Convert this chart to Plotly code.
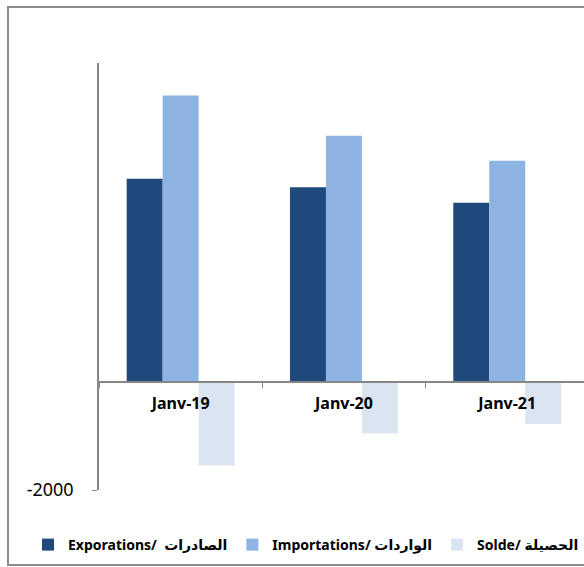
import plotly.graph_objects as go

categories = ["Janv-19", "Janv-20", "Janv-21"]
exports = [3760, 3600, 3315]
imports = [5300, 4556, 4093]
solde = [-1545, -956, -778]

series_names = ["Exporations/  الصادرات", "Importations/ الواردات", "Solde/ الحصيلة"]
colors = ["#1F497D", "#8DB3E2", "#DBE5F1"]

W, H = 584, 567
L, R, T, B = 99, 0, 63, 77
plot_w = W - L - R
plot_h = H - T - B
ymin, ymax = -2000, 5900
zero_frac = (0 - ymin) / (ymax - ymin)

fig = go.Figure()
for name, vals, c in zip(series_names, [exports, imports, solde], colors):
    fig.add_trace(go.Bar(x=categories, y=vals, name=name, marker=dict(color=c, line=dict(width=0))))

def px_x(p):
    return (p - L) / plot_w

def px_y(p):
    return (H - B - p) / plot_h

fig.update_layout(
    width=W, height=H,
    margin=dict(l=L, r=R, t=T, b=B, pad=0),
    paper_bgcolor="white", plot_bgcolor="white",
    barmode="group", bargap=0.339, bargroupgap=0,
    showlegend=True,
    legend=dict(orientation="h", x=px_x(35), xanchor="left", y=px_y(545), yanchor="middle",
                font=dict(family="Noto Sans, DejaVu Sans", size=14, color="#000000", weight="bold"),
                traceorder="normal", itemwidth=30, bgcolor="rgba(0,0,0,0)"),
    xaxis=dict(range=[-0.5, -0.5 + plot_w / 163.3], anchor="free", position=zero_frac,
               showline=True, linecolor="#868686", linewidth=1.5,
               ticks="outside", tickson="boundaries", ticklen=5, tickcolor="#868686",
               showgrid=False, zeroline=False, ticklabelstandoff=7,
               tickfont=dict(family="Noto Sans, DejaVu Sans", size=16, color="#000000", weight="bold")),
    yaxis=dict(range=[ymin, ymax], showline=True, linecolor="#868686", linewidth=1.5,
               tickvals=[-2000], ticktext=["-2000"], ticks="outside", ticklen=5, tickcolor="#868686",
               showgrid=False, zeroline=False, ticklabelstandoff=15,
               tickfont=dict(family="Noto Sans, DejaVu Sans", size=18, color="#000000")),
    shapes=[dict(type="rect", xref="paper", yref="paper",
                 x0=px_x(8), x1=px_x(595), y0=px_y(565), y1=px_y(7),
                 line=dict(color="#8C8C8C", width=2), fillcolor="rgba(0,0,0,0)", layer="below")],
)

fig.write_html("out.html", config={"displayModeBar": False},
               post_script="document.body.style.margin='0px';")
